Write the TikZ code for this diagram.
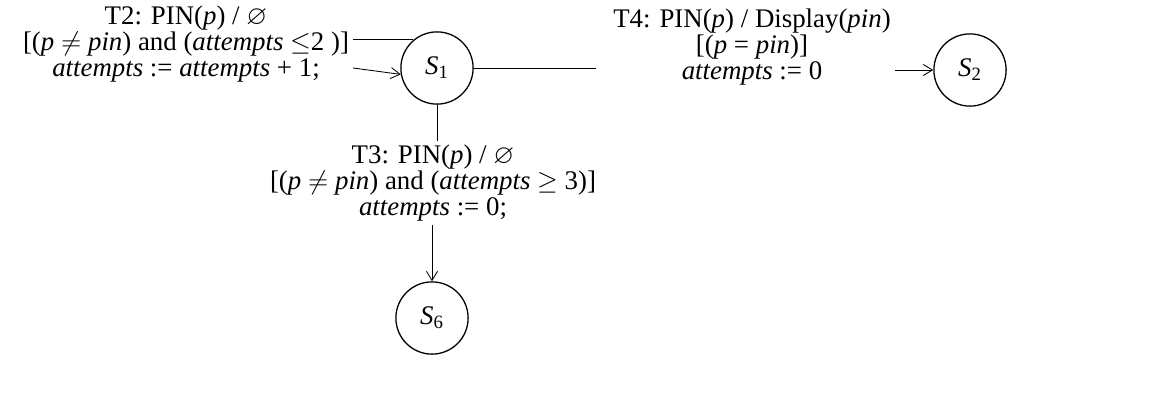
\documentclass[tikz,border=0pt]{standalone}
\usepackage{amsmath,amssymb}
\usepackage{fontspec}
\setmainfont{Liberation Serif}
\usetikzlibrary{arrows.meta, positioning}

\begin{document}
\begin{tikzpicture}[x=0.54pt, y=-0.54pt, >={Straight Barb[length=5pt, width=6pt]},
    font=\fontsize{14.5}{14}\selectfont,
    state/.style={circle, draw, line width=0.7pt, minimum size=39pt, inner sep=0pt},
    lbl/.style={align=center, inner sep=2pt},
    edge/.style={line width=0.45pt}]

    % --- 1. RAHMEN ---
    \useasboundingbox (0,0) rectangle (1149,395);

    % --- 2. ZUSTAENDE ---
    \node[state] (s1) at (437,68)  {\textit{S}\textsubscript{1}};
    \node[state] (s2) at (970,70)  {\textit{S}\textsubscript{2}};
    \node[state] (s6) at (432,318) {\textit{S}\textsubscript{6}};

    % --- 3. UEBERGANGSBESCHRIFTUNGEN ---
    \node[lbl] (t2) at (186,44) {T2: PIN(\textit{p}) / $\varnothing$\\
        {[}(\textit{p} $\neq$ \textit{pin}) and (\textit{attempts} $\leq$2 )]\\
        \textit{attempts} := \textit{attempts} + 1;};
    \node[lbl] (t4) at (752,47) {T4: PIN(\textit{p}) / Display(\textit{pin})\\
        {[}(\textit{p} = \textit{pin})]\\
        \textit{attempts} := 0};
    \node[lbl] (t3) at (433,183) {T3: PIN(\textit{p}) / $\varnothing$\\
        {[}(\textit{p} $\neq$ \textit{pin}) and (\textit{attempts} $\geq$ 3)]\\
        \textit{attempts} := 0;};

    % --- 4. UEBERGAENGE ---
    % T2: Schleife an S1
    \draw[edge] (s1.130) -- (t2.east |- s1.130);
    \draw[edge, ->] (t2.east |- s1.west) -- (s1.190);
    % T4: S1 -> S2
    \draw[edge, shorten >=7pt] (s1.east) -- (t4.west |- s1.east);
    \draw[edge, ->] (t4.east |- s2.west) -- (s2.west);
    % T3: S1 -> S6
    \draw[edge] (s1.south) -- (s1.south |- t3.north);
    \draw[edge, ->] (t3.south -| s6.north) -- (s6.north);

\end{tikzpicture}
\end{document}
